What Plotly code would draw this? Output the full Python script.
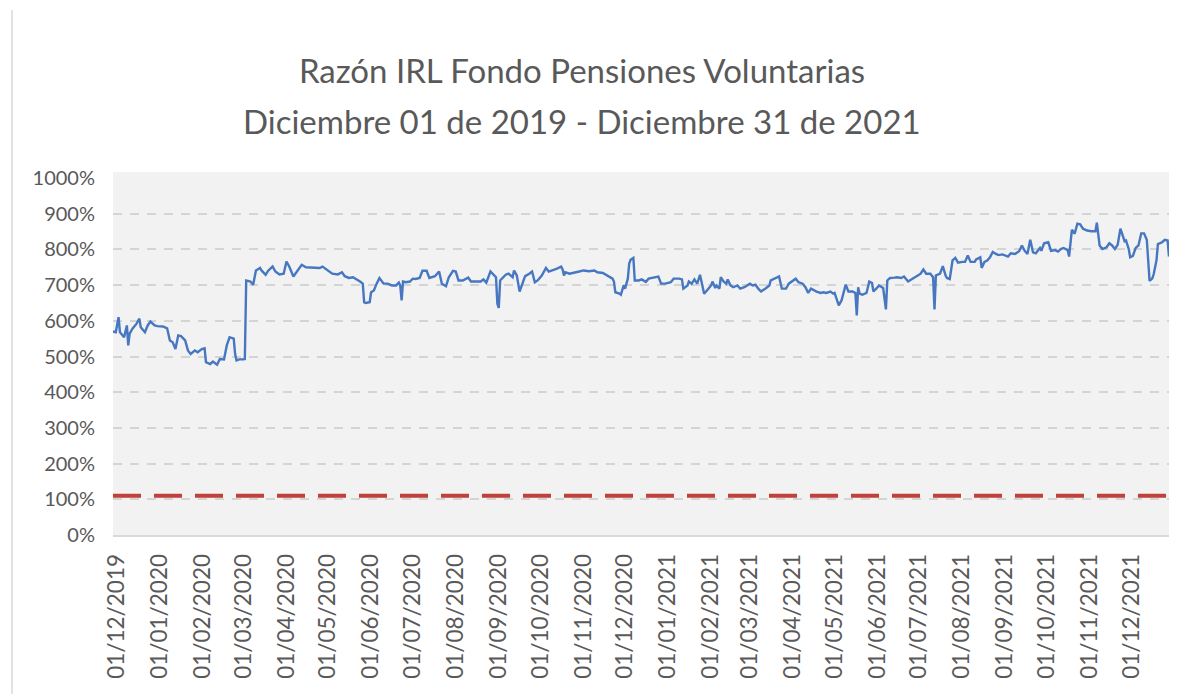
import plotly.graph_objects as go

# ---- data ----
dates = [
    "2019-12-01", "2019-12-03", "2019-12-05", "2019-12-06", "2019-12-08", "2019-12-09", "2019-12-11",
    "2019-12-12", "2019-12-13", "2019-12-15", "2019-12-18", "2019-12-20", "2019-12-21", "2019-12-24",
    "2019-12-26", "2019-12-28", "2019-12-31",
    "2020-01-02", "2020-01-06", "2020-01-09", "2020-01-11", "2020-01-13", "2020-01-15", "2020-01-17",
    "2020-01-19", "2020-01-22", "2020-01-24", "2020-01-26", "2020-01-29", "2020-01-31",
    "2020-02-03", "2020-02-05", "2020-02-06", "2020-02-09", "2020-02-11", "2020-02-14", "2020-02-16",
    "2020-02-19", "2020-02-21", "2020-02-23", "2020-02-26", "2020-02-27", "2020-02-28",
    "2020-03-01", "2020-03-04", "2020-03-05", "2020-03-06", "2020-03-09", "2020-03-11", "2020-03-13",
    "2020-03-16", "2020-03-17", "2020-03-20", "2020-03-22", "2020-03-25", "2020-03-27", "2020-03-30",
    "2020-04-02", "2020-04-04", "2020-04-06", "2020-04-09", "2020-04-11", "2020-04-15", "2020-04-18",
    "2020-04-22", "2020-04-25", "2020-04-28", "2020-04-30",
    "2020-05-04", "2020-05-07", "2020-05-11", "2020-05-14", "2020-05-16", "2020-05-19", "2020-05-22",
    "2020-05-24", "2020-05-27", "2020-05-29", "2020-05-30", "2020-05-31",
    "2020-06-03", "2020-06-04", "2020-06-06", "2020-06-08", "2020-06-10", "2020-06-13", "2020-06-16",
    "2020-06-19", "2020-06-22", "2020-06-24", "2020-06-25", "2020-06-26", "2020-06-27", "2020-06-29",
    "2020-07-02", "2020-07-04", "2020-07-06", "2020-07-09", "2020-07-11", "2020-07-14", "2020-07-16",
    "2020-07-20", "2020-07-23", "2020-07-25", "2020-07-28", "2020-07-30",
    "2020-08-02", "2020-08-04", "2020-08-06", "2020-08-09", "2020-08-13", "2020-08-15", "2020-08-18",
    "2020-08-22", "2020-08-24", "2020-08-26", "2020-08-29", "2020-08-31",
    "2020-09-02", "2020-09-03", "2020-09-04", "2020-09-05", "2020-09-07", "2020-09-09", "2020-09-11",
    "2020-09-14", "2020-09-15", "2020-09-17", "2020-09-19", "2020-09-21", "2020-09-23", "2020-09-26",
    "2020-09-28", "2020-09-30",
    "2020-10-02", "2020-10-05", "2020-10-08", "2020-10-10", "2020-10-13", "2020-10-16", "2020-10-19",
    "2020-10-20", "2020-10-21", "2020-10-22", "2020-10-25", "2020-10-28",
    "2020-11-01", "2020-11-04", "2020-11-08", "2020-11-12", "2020-11-14", "2020-11-18", "2020-11-21",
    "2020-11-25", "2020-11-26", "2020-11-27", "2020-11-30",
    "2020-12-01", "2020-12-03", "2020-12-04", "2020-12-06", "2020-12-07", "2020-12-08", "2020-12-10",
    "2020-12-11", "2020-12-14", "2020-12-16", "2020-12-19", "2020-12-21", "2020-12-25", "2020-12-28",
    "2020-12-30",
    "2021-01-02", "2021-01-06", "2021-01-08", "2021-01-12", "2021-01-14", "2021-01-15", "2021-01-18",
    "2021-01-19", "2021-01-21", "2021-01-23", "2021-01-25", "2021-01-27", "2021-01-29", "2021-01-30",
    "2021-02-01", "2021-02-04", "2021-02-05", "2021-02-07", "2021-02-08", "2021-02-10", "2021-02-11",
    "2021-02-13", "2021-02-15", "2021-02-16", "2021-02-18", "2021-02-20", "2021-02-23", "2021-02-25",
    "2021-02-28",
    "2021-03-02", "2021-03-04", "2021-03-06", "2021-03-08", "2021-03-10", "2021-03-12", "2021-03-15",
    "2021-03-18", "2021-03-19", "2021-03-22", "2021-03-25", "2021-03-27", "2021-03-30",
    "2021-04-01", "2021-04-03", "2021-04-06", "2021-04-08", "2021-04-11", "2021-04-13", "2021-04-15",
    "2021-04-17", "2021-04-19", "2021-04-21", "2021-04-24", "2021-04-26", "2021-04-28",
    "2021-05-01", "2021-05-03", "2021-05-04", "2021-05-07", "2021-05-09", "2021-05-12", "2021-05-14",
    "2021-05-17", "2021-05-19", "2021-05-20", "2021-05-21", "2021-05-22", "2021-05-24", "2021-05-27",
    "2021-05-29", "2021-05-31",
    "2021-06-01", "2021-06-03", "2021-06-05", "2021-06-08", "2021-06-09", "2021-06-10", "2021-06-11",
    "2021-06-13", "2021-06-16", "2021-06-18", "2021-06-21", "2021-06-23", "2021-06-26", "2021-06-28",
    "2021-06-30",
    "2021-07-03", "2021-07-05", "2021-07-07", "2021-07-09", "2021-07-12", "2021-07-14", "2021-07-15",
    "2021-07-16", "2021-07-19", "2021-07-21", "2021-07-23", "2021-07-24", "2021-07-26", "2021-07-28",
    "2021-07-30",
    "2021-08-01", "2021-08-04", "2021-08-06", "2021-08-08", "2021-08-10", "2021-08-13", "2021-08-14",
    "2021-08-17", "2021-08-18", "2021-08-20", "2021-08-22", "2021-08-24", "2021-08-26", "2021-08-28",
    "2021-08-30",
    "2021-09-02", "2021-09-04", "2021-09-06", "2021-09-08", "2021-09-11", "2021-09-14", "2021-09-16",
    "2021-09-18", "2021-09-20", "2021-09-22", "2021-09-24", "2021-09-26", "2021-09-29", "2021-09-30",
    "2021-10-02", "2021-10-05", "2021-10-07", "2021-10-10", "2021-10-12", "2021-10-14", "2021-10-16",
    "2021-10-19", "2021-10-20", "2021-10-22", "2021-10-24", "2021-10-26", "2021-10-28", "2021-10-30",
    "2021-11-02", "2021-11-05", "2021-11-08", "2021-11-09", "2021-11-11", "2021-11-13", "2021-11-16",
    "2021-11-18", "2021-11-20", "2021-11-22", "2021-11-24", "2021-11-26", "2021-11-27", "2021-11-29",
    "2021-11-30",
    "2021-12-02", "2021-12-03", "2021-12-05", "2021-12-07", "2021-12-09", "2021-12-11", "2021-12-13",
    "2021-12-15", "2021-12-16", "2021-12-17", "2021-12-19", "2021-12-20", "2021-12-22", "2021-12-23",
    "2021-12-26", "2021-12-28", "2021-12-30", "2021-12-31",
]

razon_irl = [
    570, 568, 610, 568, 559, 554, 587, 531, 564, 578, 592, 606, 582, 568, 587, 598, 587,
    585, 584, 579, 545, 540, 521, 559, 557, 545, 517, 507, 517, 512,
    521, 523, 484, 479, 486, 477, 493, 492, 531, 554, 550, 507, 489,
    492, 492, 493, 713, 710, 701, 741, 748, 741, 729, 741, 752, 738, 730,
    732, 766, 752, 724, 736, 757, 750, 749, 750, 748, 752,
    741, 732, 730, 736, 725, 720, 722, 718, 710, 704, 652, 650,
    652, 680, 685, 704, 720, 704, 704, 699, 699, 707, 699, 657, 710, 708,
    710, 718, 717, 720, 740, 740, 720, 725, 738, 704, 697, 722,
    740, 738, 713, 713, 721, 710, 710, 710, 716, 707, 738, 729,
    722, 648, 636, 713, 722, 729, 732, 722, 741, 727, 682, 704, 725, 732, 738, 708,
    713, 727, 748, 738, 741, 746, 752, 744, 727, 736, 732, 734,
    738, 741, 739, 741, 736, 734, 727, 718, 710, 680, 676,
    673, 699, 690, 718, 760, 771, 776, 713, 713, 716, 709, 718, 722, 724, 704,
    704, 708, 718, 718, 716, 690, 699, 710, 704, 716, 704, 729, 694, 676,
    685, 699, 710, 692, 699, 690, 722, 710, 704, 716, 699, 694, 699, 690, 694,
    699, 704, 699, 701, 690, 682, 690, 699, 713, 718, 724, 690, 690,
    704, 710, 718, 708, 704, 694, 678, 690, 685, 682, 678, 680, 678,
    682, 676, 678, 643, 657, 701, 682, 682, 678, 615, 694, 676, 673, 678, 710, 706,
    682, 690, 699, 692, 652, 632, 713, 720, 721, 722, 720, 724, 710, 716, 720,
    727, 732, 744, 732, 732, 722, 632, 727, 732, 753, 727, 720, 717, 769, 776,
    763, 765, 765, 783, 765, 765, 772, 778, 748, 765, 769, 778, 793, 788, 784,
    786, 784, 780, 789, 787, 795, 811, 796, 787, 827, 792, 789, 804, 796,
    817, 820, 796, 798, 794, 801, 804, 798, 780, 855, 844, 872, 870, 858,
    853, 851, 851, 875, 811, 801, 806, 817, 811, 801, 813, 858, 844, 823, 825,
    801, 778, 782, 804, 811, 845, 845, 827, 768, 712, 719, 731, 770, 815, 820, 827, 825, 780,
]

limite_dates = ["2019-12-01", "2021-12-31"]
limite_values = [110, 110]

title_line1 = "Razón IRL Fondo Pensiones Voluntarias"
title_line2 = "Diciembre 01 de 2019 - Diciembre 31 de 2021"

y_ticks = list(range(0, 1001, 100))

TEXT = "#595959"
FONT = "Lato"

# The page body adds an 8px offset, so the figure is laid out 8px smaller.
W, H = 1178, 686
L, R, T, B = 105, 17, 170, 159
PW, PH = W - L - R, H - T - B

fig = go.Figure()
fig.add_trace(go.Scatter(
    x=limite_dates, y=limite_values, mode="lines",
    line=dict(color="#C0403A", width=4, dash="28px,13px"),
    showlegend=False, hoverinfo="skip",
))
fig.add_trace(go.Scatter(
    x=dates, y=razon_irl, mode="lines",
    line=dict(color="#4677C0", width=2.4),
    showlegend=False,
))

fig.update_layout(
    width=W, height=H,
    margin=dict(l=L, r=R, t=T, b=B),
    paper_bgcolor="white",
    plot_bgcolor="#F2F2F2",
    font=dict(family=FONT, color=TEXT),
    title=dict(
        text=title_line1, x=574 / W, xanchor="center", xref="container",
        y=1 - 63 / H, yanchor="middle", yref="container",
        font=dict(size=33, color=TEXT, family=FONT),
    ),
    annotations=[dict(
        text=title_line2, xref="paper", yref="paper",
        x=(574 - L) / PW, y=1 + (T - 113) / PH,
        xanchor="center", yanchor="middle", showarrow=False,
        font=dict(size=33, color=TEXT, family=FONT),
    )],
    shapes=[
        dict(
            type="line", xref="paper", yref="paper",
            x0=(4 - L) / PW, x1=(4 - L) / PW,
            y0=-B / PH, y1=1 + (T - 2) / PH,
            line=dict(color="#D9D9D9", width=1.5),
        ),
        dict(
            type="rect", xref="paper", yref="paper", layer="below",
            x0=0, x1=1, y0=1, y1=1 + 6 / PH,
            fillcolor="#F2F2F2", line=dict(width=0),
        ),
    ],
)

fig.update_xaxes(
    type="date",
    range=["2019-12-01", "2021-12-31"],
    tick0="2019-12-01", dtick="M1",
    tickformat="%d/%m/%Y",
    tickangle=-90,
    tickfont=dict(size=22.5, color=TEXT, family=FONT),
    showgrid=False,
    showline=True, linecolor="#D9D9D9", linewidth=2,
    ticks="", ticklabelstandoff=8, ticklabelshift=4,
    zeroline=False,
)
fig.update_yaxes(
    range=[0, 1000],
    tickvals=y_ticks,
    ticktext=[f"{v}%" for v in y_ticks],
    tickfont=dict(size=20, color=TEXT, family=FONT),
    showgrid=True, gridcolor="#D4D4D4", gridwidth=1.5, griddash="9px,8px",
    zeroline=False, showline=False, ticks="", ticklabelstandoff=17,
)

fig.write_html("out.html")
